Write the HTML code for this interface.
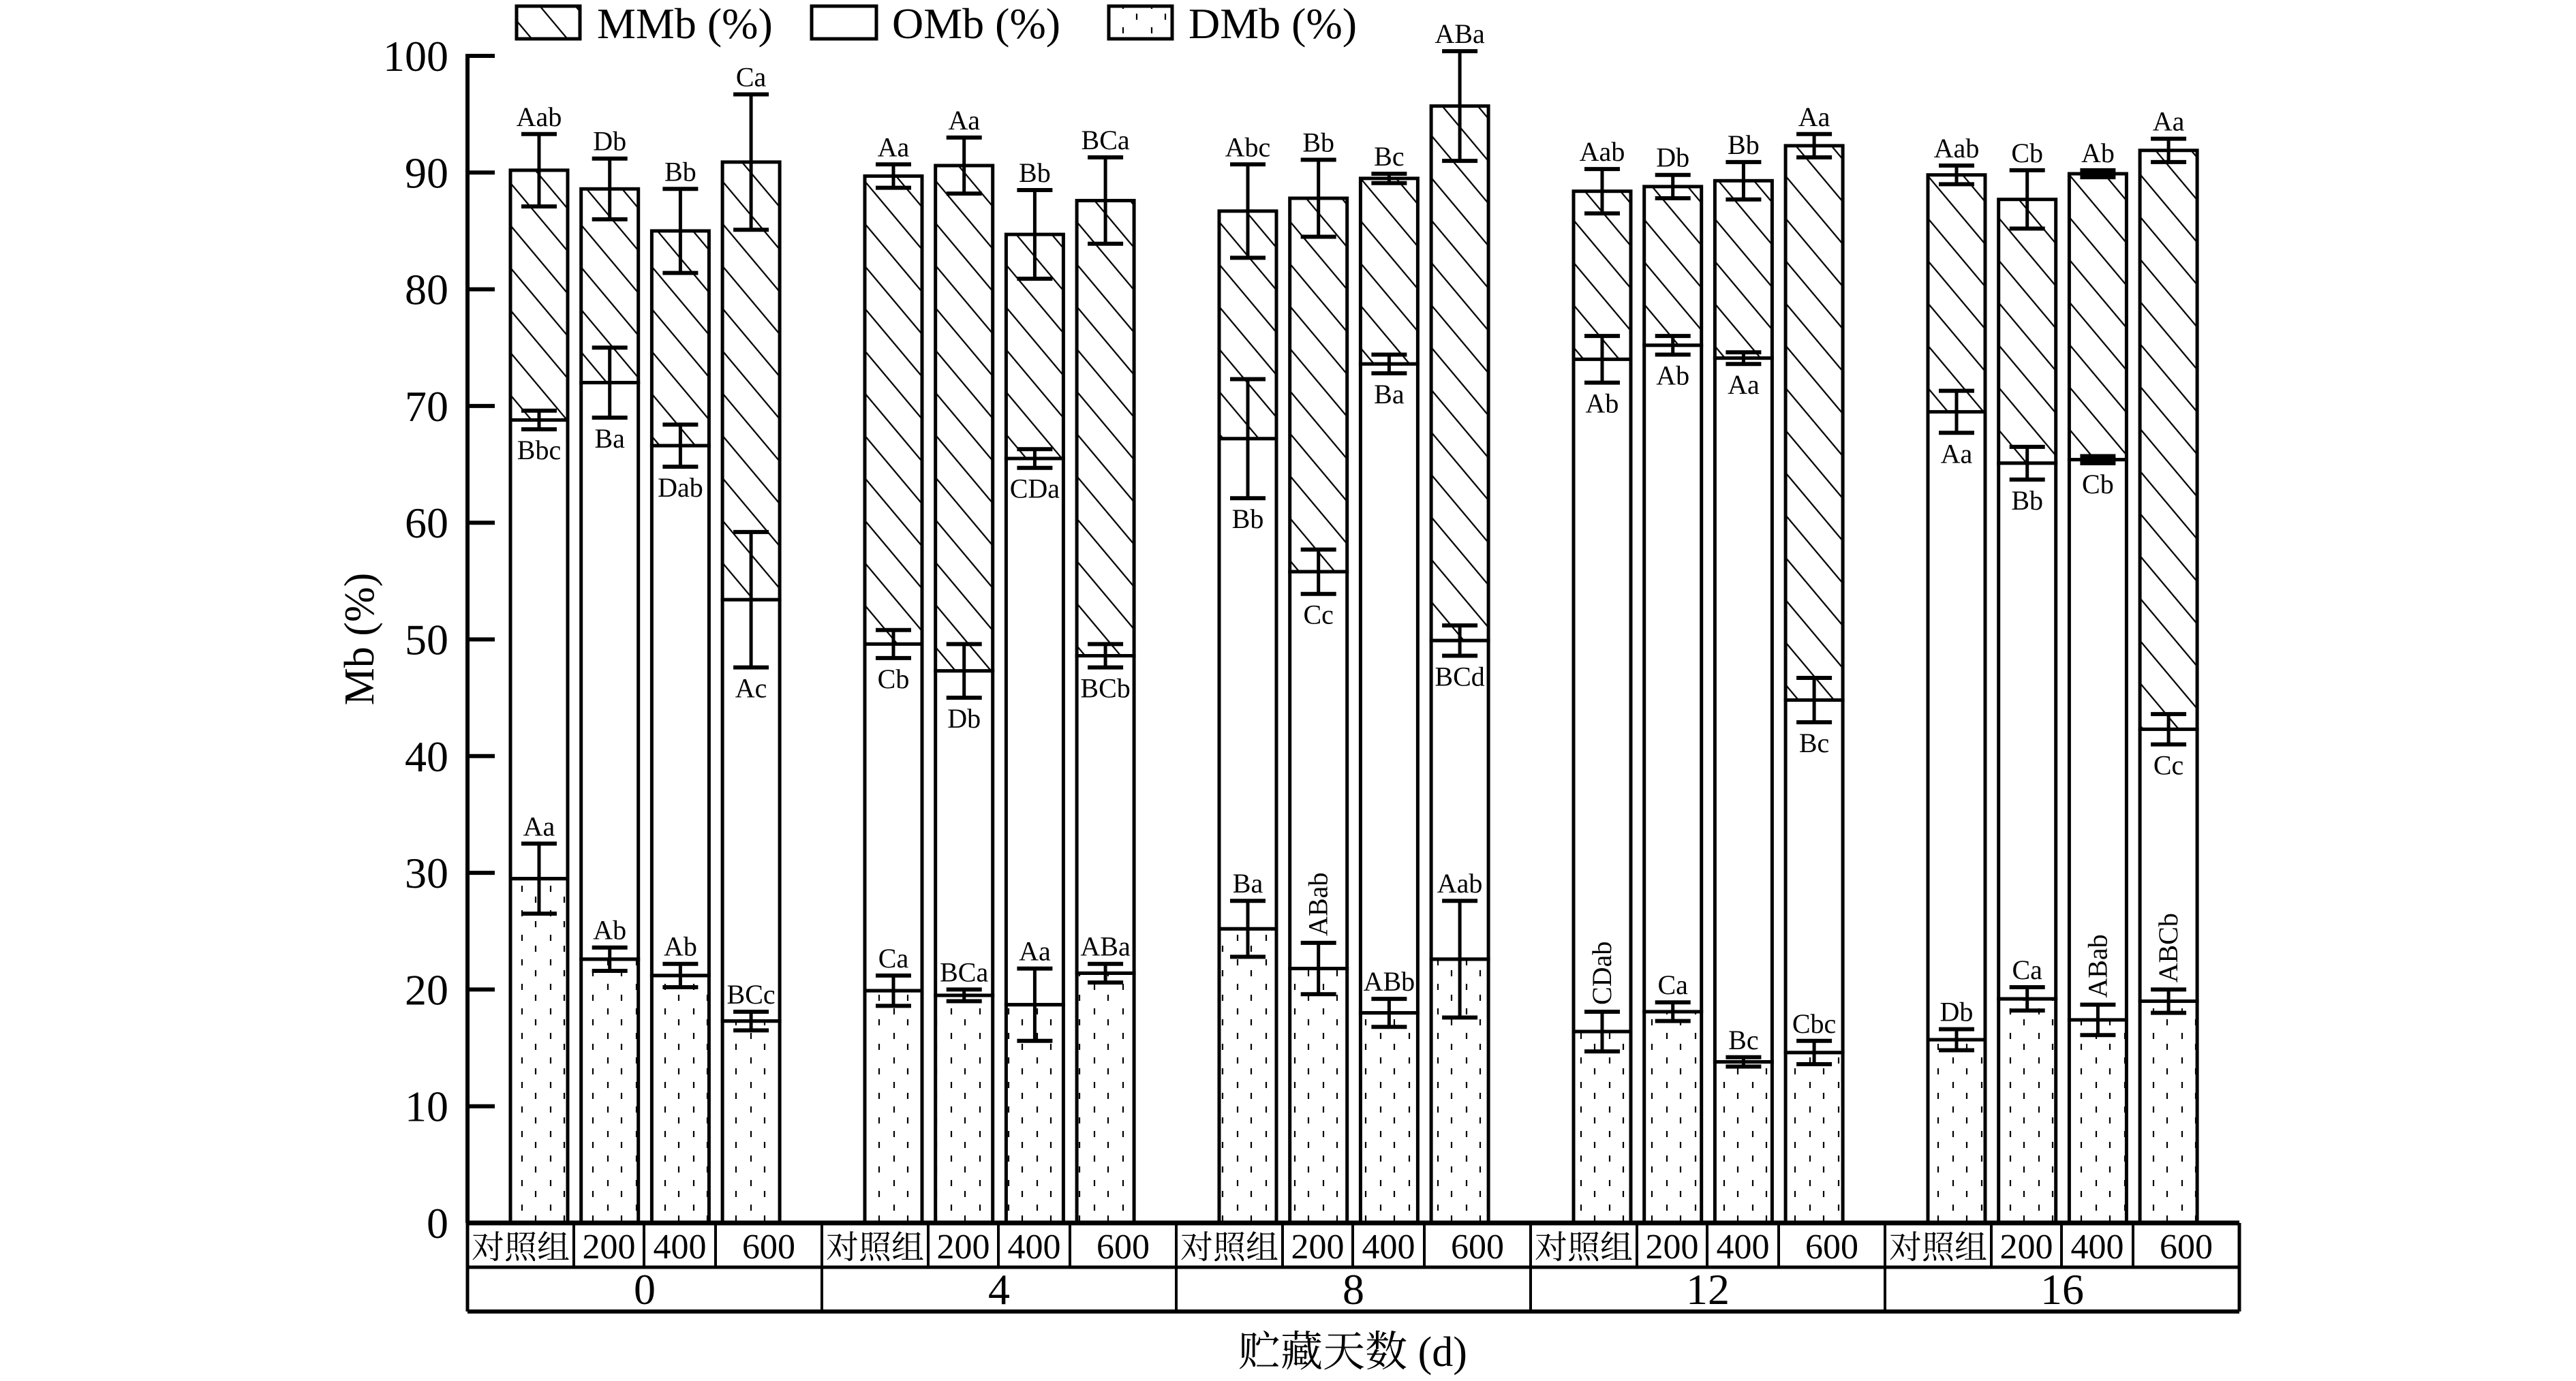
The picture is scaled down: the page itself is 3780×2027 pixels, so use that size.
<!DOCTYPE html>
<html><head><meta charset="utf-8">
<style>
html,body{margin:0;padding:0;background:#fff;}
svg{display:block;}
text{font-family:"Liberation Serif","Noto Serif CJK SC",serif;fill:#000;}
</style></head>
<body>
<svg id="chart" width="3780" height="2027" viewBox="0 0 3780 2027" xmlns="http://www.w3.org/2000/svg">
<defs>
<pattern id="hatch" patternUnits="userSpaceOnUse" width="40" height="40" patternTransform="rotate(-40)">
<line x1="0" y1="0" x2="0" y2="40" stroke="#000" stroke-width="4.5"/>
</pattern>
<pattern id="dots" patternUnits="userSpaceOnUse" width="42" height="36">
<line x1="10" y1="4" x2="10" y2="13" stroke="#000" stroke-width="2.2"/>
<line x1="30" y1="20" x2="30" y2="29" stroke="#000" stroke-width="2.2"/>
</pattern>
</defs>
<g id="legend">
<g>
<rect x="758" y="9" width="93" height="48" fill="url(#hatch)" stroke="#000" stroke-width="5"/>
<text x="876" y="56" font-size="64">MMb (%)</text></g>
<g>
<rect x="1191" y="9" width="95" height="48" fill="#fff" stroke="#000" stroke-width="5"/>
<text x="1309" y="56" font-size="64">OMb (%)</text></g>
<g>
<rect x="1627" y="9" width="93" height="48" fill="url(#dots)" stroke="#000" stroke-width="5"/>
<text x="1744" y="56" font-size="64">DMb (%)</text></g>
</g>
<g id="axes"></g>
<g id="bars"></g>
<g id="table"></g>
<text x="0" y="0" font-size="62" text-anchor="middle" transform="translate(548,938) rotate(-90)">Mb (%)</text>
<text x="1985" y="2005" font-size="62" text-anchor="middle">贮藏天数 (d)</text>
</svg>
<script>
const groups = ["0","4","8","12","16"];
const treatments = ["对照组","200","400","600"];
const yTicks = [0,10,20,30,40,50,60,70,80,90,100];
// per group, per treatment (ctrl,200,400,600)
const dmb = [29.5,22.6,21.2,17.3, 19.9,19.5,18.7,21.4, 25.2,21.8,18.0,22.6, 16.4,18.1,13.8,14.6, 15.7,19.2,17.4,19.0];
const dmbErr = [3.0,1.0,1.0,0.8, 1.3,0.5,3.1,0.8, 2.4,2.2,1.2,5.0, 1.7,0.8,0.4,1.0, 0.9,1.0,1.3,1.0];
const ombTop = [68.8,72.0,66.6,53.4, 49.6,47.3,65.5,48.6, 67.2,55.8,73.6,49.9, 74.0,75.2,74.1,44.8, 69.5,65.1,65.4,42.3];
const ombErr = [0.8,3.0,1.8,5.8, 1.2,2.3,0.8,1.0, 5.1,1.9,0.8,1.3, 2.0,0.8,0.5,1.9, 1.8,1.4,0.3,1.3];
const total = [90.2,88.6,85.0,90.9, 89.7,90.6,84.7,87.6, 86.7,87.8,89.5,95.7, 88.4,88.8,89.3,92.3, 89.8,87.7,89.9,91.9];
const totalErr = [3.1,2.6,3.6,5.8, 1.0,2.4,3.8,3.7, 4.0,3.3,0.4,4.7, 1.9,1.0,1.6,1.0, 0.8,2.5,0.3,1.0];
const dLabels = ["Aa","Ab","Ab","BCc", "Ca","BCa","Aa","ABa", "Ba","ABab","ABb","Aab", "CDab","Ca","Bc","Cbc", "Db","Ca","ABab","ABCb"];
const dRotated = [0,0,0,0, 0,0,0,0, 0,1,0,0, 1,0,0,0, 0,0,1,1];
const oLabels = ["Bbc","Ba","Dab","Ac", "Cb","Db","CDa","BCb", "Bb","Cc","Ba","BCd", "Ab","Ab","Aa","Bc", "Aa","Bb","Cb","Cc"];
const mLabels = ["Aab","Db","Bb","Ca", "Aa","Aa","Bb","BCa", "Abc","Bb","Bc","ABa", "Aab","Db","Bb","Aa", "Aab","Cb","Ab","Aa"];

const NS="http://www.w3.org/2000/svg";
const X0=686, Y0=1795, YTOP=82, GW=520;
const y = v => Y0 - (v/100)*(Y0-YTOP);
const barX = (g,i) => X0 + g*GW + 105 + i*103.7;
const BW=84;
function mk(tag, attrs, parent, txt){const e=document.createElementNS(NS,tag);for(const k in attrs)e.setAttribute(k,attrs[k]);if(txt!==undefined)e.textContent=txt;parent.appendChild(e);return e;}

const axes=document.getElementById('axes');
const yl=mk('line',{x1:X0,y1:YTOP-3,x2:X0,y2:Y0,stroke:'#000','stroke-width':6},axes);


yTicks.forEach(t=>{
  const tk=mk('line',{x1:X0,y1:y(t),x2:X0+40,y2:y(t),stroke:'#000','stroke-width':6},axes);
  
  
  const tl=mk('text',{x:658,y:y(t)+22,'font-size':64,'text-anchor':'end'},axes,String(t));
  
  
});

const bars=document.getElementById('bars');
function errbar(cx,v,e,parent,name){
  const g=mk('g',{},parent);
  
  
  mk('line',{x1:cx,y1:y(v+e),x2:cx,y2:y(v-e),stroke:'#000','stroke-width':5},g);
  mk('line',{x1:cx-26,y1:y(v+e),x2:cx+26,y2:y(v+e),stroke:'#000','stroke-width':6},g);
  mk('line',{x1:cx-26,y1:y(v-e),x2:cx+26,y2:y(v-e),stroke:'#000','stroke-width':6},g);
}
groups.forEach((gname,g)=>{
  treatments.forEach((tn,i)=>{
    const k=g*4+i, cx=barX(g,i), x=cx-BW/2;
    const bg=mk('g',{},bars);
    
    
    const rm=mk('rect',{x:x,y:y(total[k]),width:BW,height:y(ombTop[k])-y(total[k]),fill:'url(#hatch)',stroke:'#000','stroke-width':5},bg);
    
    
    const ro=mk('rect',{x:x,y:y(ombTop[k]),width:BW,height:y(dmb[k])-y(ombTop[k]),fill:'#fff',stroke:'#000','stroke-width':5},bg);
    
    
    const rd=mk('rect',{x:x,y:y(dmb[k]),width:BW,height:y(0)-y(dmb[k]),fill:'url(#dots)',stroke:'#000','stroke-width':5},bg);
    
    
    errbar(cx,dmb[k],dmbErr[k],bg,'dmb-error-bar');
    errbar(cx,ombTop[k],ombErr[k],bg,'omb-error-bar');
    errbar(cx,total[k],totalErr[k],bg,'mmb-error-bar');
    let dl;
    if(dRotated[k]){
      dl=mk('text',{x:0,y:0,'font-size':40,'text-anchor':'start',transform:`translate(${cx+13},${y(dmb[k]+dmbErr[k])-10}) rotate(-90)`},bg,dLabels[k]);
    } else {
      dl=mk('text',{x:cx,y:y(dmb[k]+dmbErr[k])-12,'font-size':40,'text-anchor':'middle'},bg,dLabels[k]);
    }
    
    
    const ol=mk('text',{x:cx,y:y(ombTop[k]-ombErr[k])+44,'font-size':40,'text-anchor':'middle'},bg,oLabels[k]);
    
    
    const ml=mk('text',{x:cx,y:y(total[k]+totalErr[k])-12,'font-size':40,'text-anchor':'middle'},bg,mLabels[k]);
    
    
  });
});

const tb=document.getElementById('table');
const R1=1860, R2=1925, XR=X0+5*GW;
[[X0,Y0,XR,Y0,7],[X0,R1,XR,R1,5],[X0,R2,XR,R2,6],[X0,Y0,X0,R2,5],[XR,Y0,XR,R2,5]].forEach(a=>{
  const l=mk('line',{x1:a[0],y1:a[1],x2:a[2],y2:a[3],stroke:'#000','stroke-width':a[4]},tb);
  
  
});
const cols=[0,156,259,364,520];
groups.forEach((gname,g)=>{
  const gx=X0+g*GW;
  for(let c=1;c<4;c++){
    const l=mk('line',{x1:gx+cols[c],y1:Y0,x2:gx+cols[c],y2:R1,stroke:'#000','stroke-width':4},tb);
    
    
  }
  if(g>0){
    const l=mk('line',{x1:gx,y1:Y0,x2:gx,y2:R2,stroke:'#000','stroke-width':4},tb);
    
    
  }
  treatments.forEach((tn,i)=>{
    const cx=gx+(cols[i]+cols[i+1])/2;
    const t=mk('text',{x:cx,y:1847,'font-size':(i===0?48:52),'text-anchor':'middle'},tb,tn);
    
    
  });
  const gl=mk('text',{x:gx+GW/2,y:1914,'font-size':64,'text-anchor':'middle'},tb,gname);
  
  
});
</script>
</body></html>
